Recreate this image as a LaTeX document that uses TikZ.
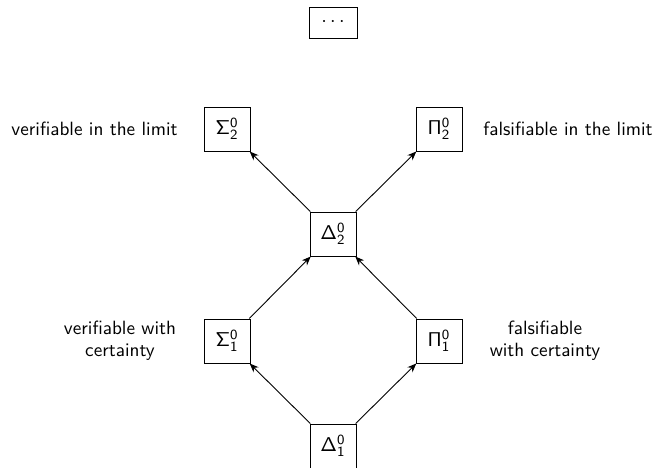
\documentclass[tikz,border=0pt]{standalone}
\usetikzlibrary{arrows.meta}
\begin{document}
\begin{tikzpicture}[x=0.5pt,y=-0.5pt,
  font=\sffamily\fontsize{9.6}{11}\selectfont,
  cls/.style={draw,line width=0.5pt,minimum width=23pt,minimum height=22pt,inner sep=2pt},
  desc/.style={align=center},
  up/.style={-{Stealth[length=4.5pt,width=3.6pt]},line width=0.45pt}]
  \useasboundingbox (0,0) rectangle (660,467);
  % hierarchy levels
  \node[cls,minimum width=24pt,minimum height=15.5pt] (top) at (333,22.5) {$\cdots$};
  \node[cls] (s2) at (227,129) {$\mathsf{\Sigma^0_2}$};
  \node[cls] (p2) at (439,129) {$\mathsf{\Pi^0_2}$};
  \node[cls] (d2) at (333,234) {$\mathsf{\Delta^0_2}$};
  \node[cls] (s1) at (227,341) {$\mathsf{\Sigma^0_1}$};
  \node[cls] (p1) at (439,341) {$\mathsf{\Pi^0_1}$};
  \node[cls] (d1) at (333,446) {$\mathsf{\Delta^0_1}$};
  % descriptions
  \node[desc,anchor=east,inner sep=0pt] (ls2) at (178,129) {verifiable in the limit};
  \node[desc,anchor=west,inner sep=0pt] (lp2) at (483,129) {falsifiable in the limit};
  \node[desc] (ls1) at (120,341) {verifiable with\\certainty};
  \node[desc] (lp1) at (545,341) {falsifiable\\with certainty};
  % inclusions
  \draw[up] (d1) -- (s1);
  \draw[up] (d1) -- (p1);
  \draw[up] (s1) -- (d2);
  \draw[up] (p1) -- (d2);
  \draw[up] (d2) -- (s2);
  \draw[up] (d2) -- (p2);
\end{tikzpicture}
\end{document}
